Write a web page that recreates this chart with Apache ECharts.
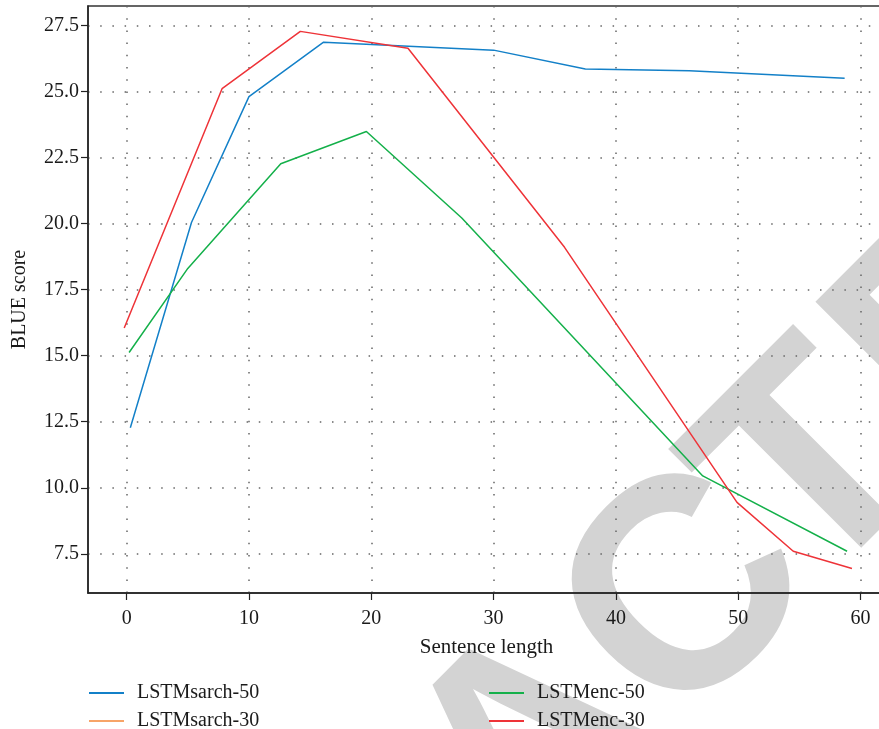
<!DOCTYPE html>
<html>
<head>
<meta charset="utf-8">
<script src="https://cdn.jsdelivr.net/npm/echarts@6/dist/echarts.min.js"></script>
<style>html,body{margin:0;padding:0;background:#fff}#c{width:879px;height:729px}</style>
</head>
<body>
<div id="c"></div>
<script>
var seriesNames = ['LSTMsarch-50', 'LSTMsarch-30', 'LSTMenc-50', 'LSTMenc-30'];
var xTicks = [0, 10, 20, 30, 40, 50, 60];
var yTicks = [7.5, 10.0, 12.5, 15.0, 17.5, 20.0, 22.5, 25.0, 27.5];
var sarch50 = [[0.3, 12.27], [5.3, 20.04], [10.0, 24.8], [16.1, 26.86], [30.0, 26.56], [37.5, 25.85], [46.0, 25.78], [58.7, 25.5]];
var sarch30 = [];
var enc50 = [[0.2, 15.12], [5.0, 18.3], [12.6, 22.26], [19.6, 23.48], [27.4, 20.21], [47.1, 10.45], [58.9, 7.6]];
var enc30 = [[-0.2, 16.05], [7.8, 25.1], [14.2, 27.27], [23.0, 26.63], [35.8, 19.1], [49.9, 9.45], [54.5, 7.6], [59.3, 6.95]];
var colors = ['#1380c8', '#f7a468', '#14b04a', '#ee3338'];
var legendPos = [[84, 678], [84, 706], [484, 678], [484, 706]];

// watermark letters and their offsets along the diagonal baseline (styling only)
var wmLetters = ['R', 'E', 'T', 'R', 'A', 'C', 'T', 'E', 'D'];
var wmOffsets = [-1196, -1004, -812, -612, -396, -179, 0, 200, 408];

var chart = echarts.init(document.getElementById('c'));
var font = 'Liberation Serif';
function mk(name, data, i) {
  return {name: name, type: 'line', data: data, showSymbol: false, symbol: 'none',
    lineStyle: {color: colors[i], width: 1.5}, itemStyle: {color: colors[i]}, z: 3, animation: false};
}
var legends = seriesNames.map(function (n, i) {
  return {
    data: [n], left: legendPos[i][0], top: legendPos[i][1],
    itemWidth: 35, itemHeight: 2, icon: 'rect', selectedMode: false,
    textStyle: {fontFamily: font, fontSize: 20, color: '#1a1a1a', padding: [0, 0, 0, 8]}
  };
});
var ux = Math.SQRT1_2, uy = -Math.SQRT1_2;
var wm = wmLetters.map(function (ch, i) {
  return {
    type: 'text', z: -10, silent: true,
    x: 818 + wmOffsets[i] * ux, y: 474 + wmOffsets[i] * uy, rotation: Math.PI / 4,
    style: {text: ch, font: 'bold 300px "Liberation Sans"', fill: '#d3d3d3', align: 'center', verticalAlign: 'middle'}
  };
});
chart.setOption({
  animation: false,
  color: colors,
  graphic: wm,
  grid: {left: 88, top: 6, right: -6, bottom: 136, show: true, borderColor: '#333', borderWidth: 1.5,
    backgroundColor: 'transparent', containLabel: false, outerBoundsMode: 'none'},
  xAxis: {
    type: 'value', min: -3.16, max: 62,
    name: 'Sentence length', nameLocation: 'middle', nameGap: 44,
    nameTextStyle: {fontFamily: font, fontSize: 21, color: '#1a1a1a'},
    axisLine: {show: true, onZero: false, lineStyle: {color: '#222', width: 1.5}},
    axisTick: {show: true, length: 7, customValues: xTicks, lineStyle: {color: '#222', width: 1.2}},
    axisLabel: {customValues: xTicks, margin: 16, fontFamily: font, fontSize: 20, color: '#1a1a1a'},
    splitLine: {show: true, lineStyle: {color: '#666', width: 1.5, type: [1.5, 10.7]}}
  },
  yAxis: {
    type: 'value', min: 6.02, max: 28.23,
    name: 'BLUE score', nameLocation: 'middle', nameGap: 58, nameRotate: 90,
    nameTextStyle: {fontFamily: font, fontSize: 20, color: '#1a1a1a'},
    axisLine: {show: true, onZero: false, lineStyle: {color: '#222', width: 1.5}},
    axisTick: {show: true, length: 7, customValues: yTicks, lineStyle: {color: '#222', width: 1.2}},
    axisLabel: {customValues: yTicks, margin: 9, fontFamily: font, fontSize: 20, color: '#1a1a1a',
      formatter: function (v) { return v.toFixed(1); }},
    splitLine: {show: true, lineStyle: {color: '#666', width: 1.5, type: [1.5, 10.7]}}
  },
  legend: legends,
  series: [mk(seriesNames[0], sarch50, 0), mk(seriesNames[1], sarch30, 1), mk(seriesNames[2], enc50, 2), mk(seriesNames[3], enc30, 3)]
});
</script>
</body>
</html>
